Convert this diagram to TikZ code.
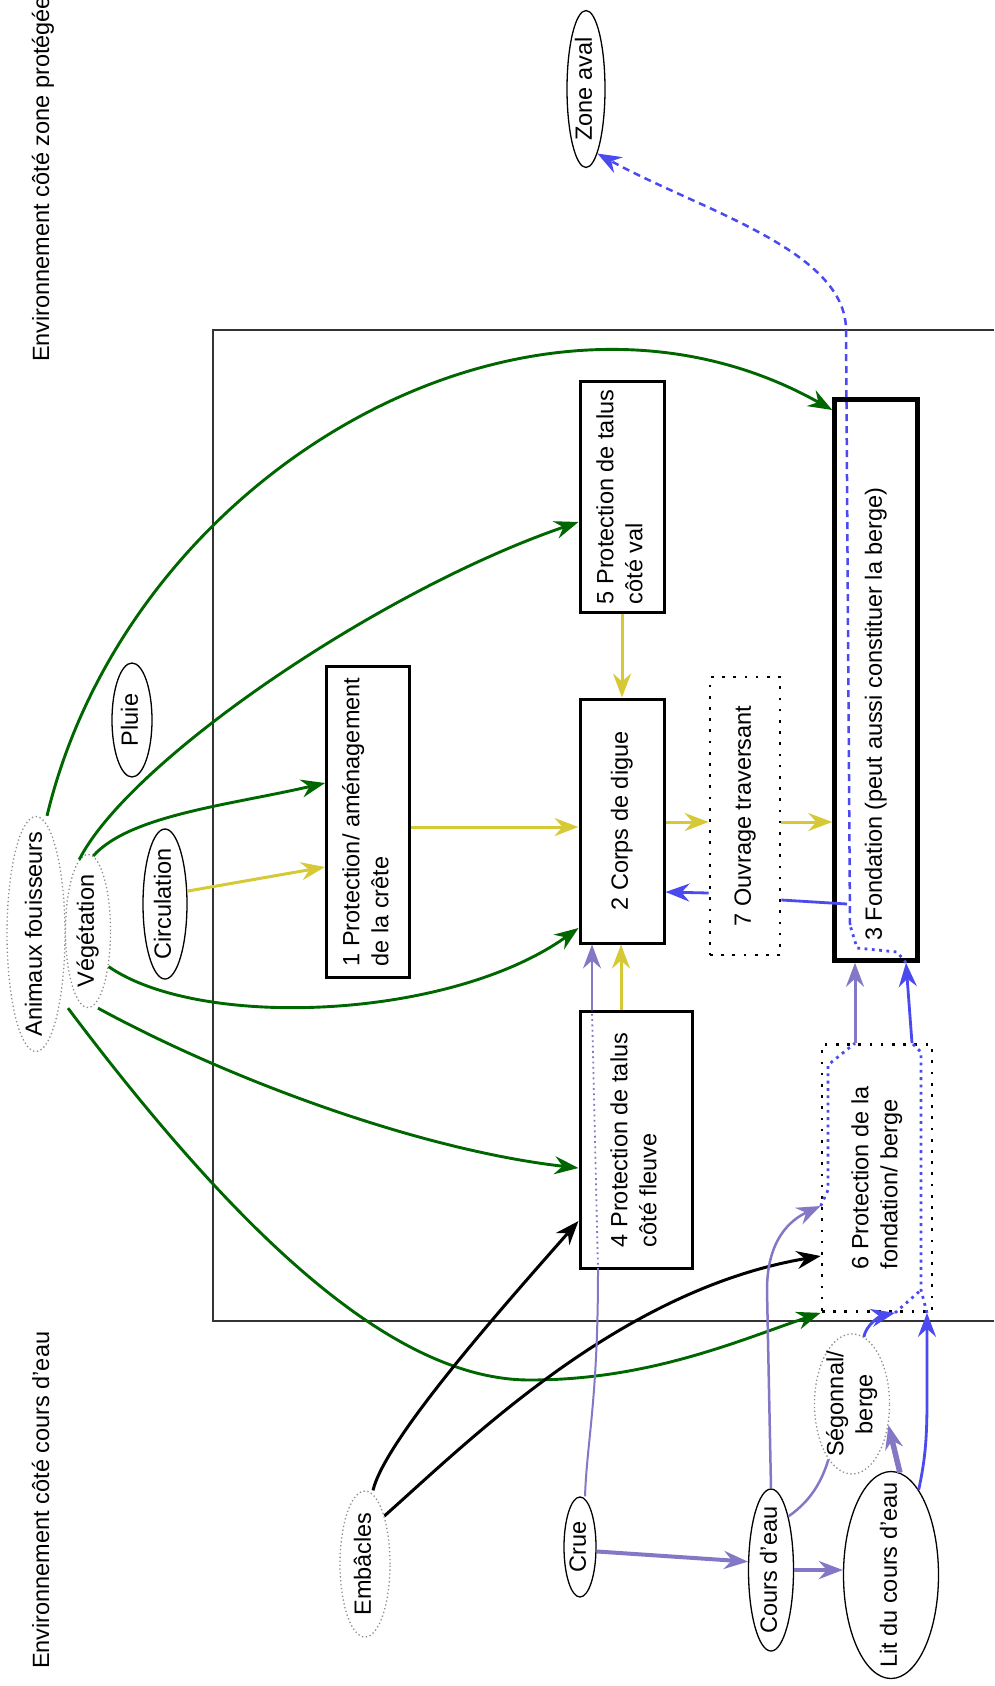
\documentclass[tikz,border=0pt]{standalone}
\usepackage{fontspec}
\setmainfont{Liberation Sans}
\usepackage{graphicx}
\usetikzlibrary{shapes.geometric,arrows.meta,calc}
\definecolor{leafgreen}{HTML}{006600}
\definecolor{loadyellow}{HTML}{D6C936}
\definecolor{floodlav}{HTML}{8278C6}
\definecolor{seepblue}{HTML}{4A4AEE}
\definecolor{rimgray}{HTML}{8C8C8C}

% text written bottom-to-top, taking no room in its node
\newcommand{\uptext}[2][c]{\makebox[0pt]{\raisebox{-0.5\height}[0pt][0pt]{\rotatebox{90}{\begin{tabular}{@{}#1@{}}#2\end{tabular}}}}}

\tikzset{
  flowtip/.style={-{Stealth[length=24pt,width=18pt,inset=8pt]}},
  partbox/.style={draw, rectangle, line width=3pt, fill=white, inner sep=0pt},
  heavybox/.style={partbox, line width=4.5pt},
  dotbox/.style={partbox, line width=2.7pt, dash pattern=on 2.7pt off 8.5pt},
  ovalnode/.style={draw, ellipse, line width=1.3pt, inner sep=0pt},
  dotoval/.style={ovalnode, draw=rimgray, dash pattern=on 1.3pt off 2.6pt},
  greenarr/.style={flowtip, leafgreen, line width=2.9pt},
  yellowarr/.style={flowtip, loadyellow, line width=3pt},
  blackarr/.style={flowtip, black, line width=3pt},
  lavline/.style={floodlav, line width=2.5pt},
  lavarr/.style={lavline, flowtip},
  lavdot/.style={floodlav, line width=1.8pt, dash pattern=on 1.8pt off 3.5pt},
  blueline/.style={seepblue, line width=2.8pt},
  bluearr/.style={blueline, flowtip},
  bluedot/.style={seepblue, line width=2.8pt, dash pattern=on 2.8pt off 4.5pt},
  bluedash/.style={seepblue, line width=2.5pt, dash pattern=on 7pt off 5pt}
}

\begin{document}
\begin{tikzpicture}[x=1pt, y=-1pt, font=\fontsize{23.5pt}{29pt}\selectfont]
  \useasboundingbox (0,0) rectangle (994,1686);

  % side labels
  \node[rotate=90, anchor=base west, inner sep=0pt] (sideval) at (49,362) {Environnement côté zone protégée};
  \node[rotate=90, anchor=base west, inner sep=0pt] (sidefleuve) at (49,1669) {Environnement côté cours d'eau};

  % levee frame (open to the right)
  \draw[line width=1.8pt, black!80] (994,330) -- (213,330) -- (213,1321) -- (994,1321);

  % outside agents
  \node[ovalnode, minimum width=38pt, minimum height=157pt] (zoneaval) at (586,89) {\uptext{Zone aval}};
  \node[ovalnode, minimum width=40pt, minimum height=114pt] (pluie) at (132,720) {\uptext{Pluie}};
  \node[ovalnode, minimum width=44pt, minimum height=150pt] (circulation) at (165,904) {\uptext{Circulation}};
  \node[dotoval, minimum width=58pt, minimum height=235pt] (animaux) at (36,934) {\uptext{Animaux fouisseurs}};
  \node[dotoval, minimum width=45pt, minimum height=153pt] (vegetation) at (88,931) {\uptext{Végétation}};
  \node[dotoval, minimum width=50pt, minimum height=146pt] (embacles) at (365,1564) {\uptext{Embâcles}};
  \node[ovalnode, minimum width=32pt, minimum height=100pt] (crue) at (580,1547) {\uptext{Crue}};
  \node[ovalnode, minimum width=45pt, minimum height=162pt] (coursdeau) at (771,1570) {\uptext{Cours d'eau}};
  \node[ovalnode, minimum width=95pt, minimum height=207pt] (lit) at (891,1575) {\uptext{Lit du cours d'eau}};
  \node[dotoval, minimum width=75pt, minimum height=140pt] (segonnal) at (852,1404) {\uptext{Ségonnal/\\berge}};

  % levee components
  \node[partbox, minimum width=83pt, minimum height=311pt] (crete) at (368,822) {\uptext[l]{1 Protection/ aménagement\\de la crête}};
  \node[partbox, minimum width=84pt, minimum height=244pt] (corps) at (622,821) {\uptext{2 Corps de digue}};
  \node[partbox, minimum width=84pt, minimum height=231pt] (talusval) at (622,497) {\uptext[l]{5 Protection de talus\\côté val}};
  \node[dotbox, minimum width=70pt, minimum height=278pt] (ouvrage) at (745,816) {\uptext{7 Ouvrage traversant}};
  \node[heavybox, minimum width=83pt, minimum height=561pt] (fondation) at (876,680) {\uptext{3 Fondation (peut aussi constituer la berge)\rule{68pt}{0pt}}};
  \node[partbox, minimum width=112pt, minimum height=257pt] (talusfleuve) at (636,1140) {\uptext[l]{4 Protection de talus\\côté fleuve}};
  \node[dotbox, minimum width=110pt, minimum height=267pt] (protfond) at (877,1178) {\uptext[l]{6 Protection de la\\fondation/ berge}};

  % vegetation and burrowing animals
  \draw[greenarr] ([xshift=11pt]animaux.north) .. controls (130,470) and (530,240) .. (fondation.west |- 0,410);
  \draw[greenarr] (vegetation.97) .. controls (130,760) and (380,590) .. (talusval.west |- 0,522);
  \draw[greenarr] (vegetation.86) .. controls (130,815) and (230,805) .. (crete.west |- 0,783);
  \draw[greenarr] (vegetation.-60) .. controls (200,1030) and (450,1020) .. (corps.west |- 0,928);
  \draw[greenarr] ([xshift=10pt]vegetation.south) .. controls (230,1080) and (420,1150) .. (talusfleuve.west |- 0,1168);
  \draw[greenarr] ([xshift=-20pt]vegetation.south) .. controls (250,1250) and (400,1380) .. (530,1380)
    .. controls (650,1380) and (740,1340) .. (protfond.south west);

  % debris
  \draw[blackarr] ([xshift=8pt]embacles.north) .. controls (385,1440) and (500,1310) .. (talusfleuve.west |- 0,1221);
  \draw[blackarr] (embacles.68) .. controls (470,1440) and (620,1290) .. (protfond.west |- 0,1256);

  % loads through the levee
  \draw[yellowarr] (circulation.30) -- (crete.west |- 0,867);
  \draw[yellowarr] (crete.east |- 0,827) -- (corps.west |- 0,827);
  \draw[yellowarr] (talusval.south) -- (corps.north);
  \draw[yellowarr] (corps.east |- 0,822) -- (ouvrage.west |- 0,822);
  \draw[yellowarr] (ouvrage.east |- 0,822) -- (fondation.west |- 0,822);
  \draw[yellowarr] (621,0 |- talusfleuve.north) -- (621,0 |- corps.south);

  % flood and river
  \draw[lavline, line width=2pt] ([xshift=5pt]crue.north) .. controls (587,1440) and (598,1400) .. (598,0 |- talusfleuve.south);
  \draw[lavdot] (598,0 |- talusfleuve.south) -- (592,0 |- talusfleuve.north);
  \draw[lavarr, line width=2pt] (592,0 |- talusfleuve.north) -- (592,0 |- corps.south);
  \draw[lavarr, line width=4pt] (crue.-15) -- (coursdeau.160);
  \draw[lavarr, line width=4.5pt] (coursdeau.east) -- (coursdeau.east -| lit.west);
  \draw[lavarr] (coursdeau.north) -- (767,1290) .. controls (767,1240) and (790,1220) .. (protfond.west |- 0,1206);
  \draw[lavline] (coursdeau.72) .. controls (812,1500) and (822,1480) .. (segonnal.-113);
  \draw[lavarr, line width=5.5pt] (lit.85) -- (segonnal.-30);
  \draw[bluedot] (protfond.west |- 0,1206) -- (828,1190) -- (828,1065) -- (855,0 |- protfond.north);
  \draw[lavarr, line width=3pt] (855,0 |- protfond.north) -- (855,0 |- fondation.south);

  % seepage under the levee
  \draw[bluearr] (lit.72) .. controls (925,1460) and (927,1440) .. (927,1400) -- (927,0 |- protfond.south);
  \draw[bluearr] (segonnal.80) .. controls (866,1325) and (880,1316) .. (895,0 |- protfond.south);
  \draw[bluedot] (895,0 |- protfond.south) -- (921,1290);
  \draw[bluedot] (927,0 |- protfond.south) -- (921,1290) -- (921,1052) -- (912,0 |- protfond.north);
  \draw[bluearr] (912,0 |- protfond.north) -- (906,0 |- fondation.south);
  \draw[bluedot] (906,0 |- fondation.south) -- (897,952) -- (857,948) -- (850,925);
  \draw[blueline] (847,904) -- (ouvrage.east |- 0,900);
  \draw[bluearr] (ouvrage.west |- 0,893) -- (corps.east |- 0,892);
  \draw[bluedash, flowtip] (850,925) -- (846,330) .. controls (846,250) and (700,210) .. (zoneaval.-80);
\end{tikzpicture}
\end{document}
